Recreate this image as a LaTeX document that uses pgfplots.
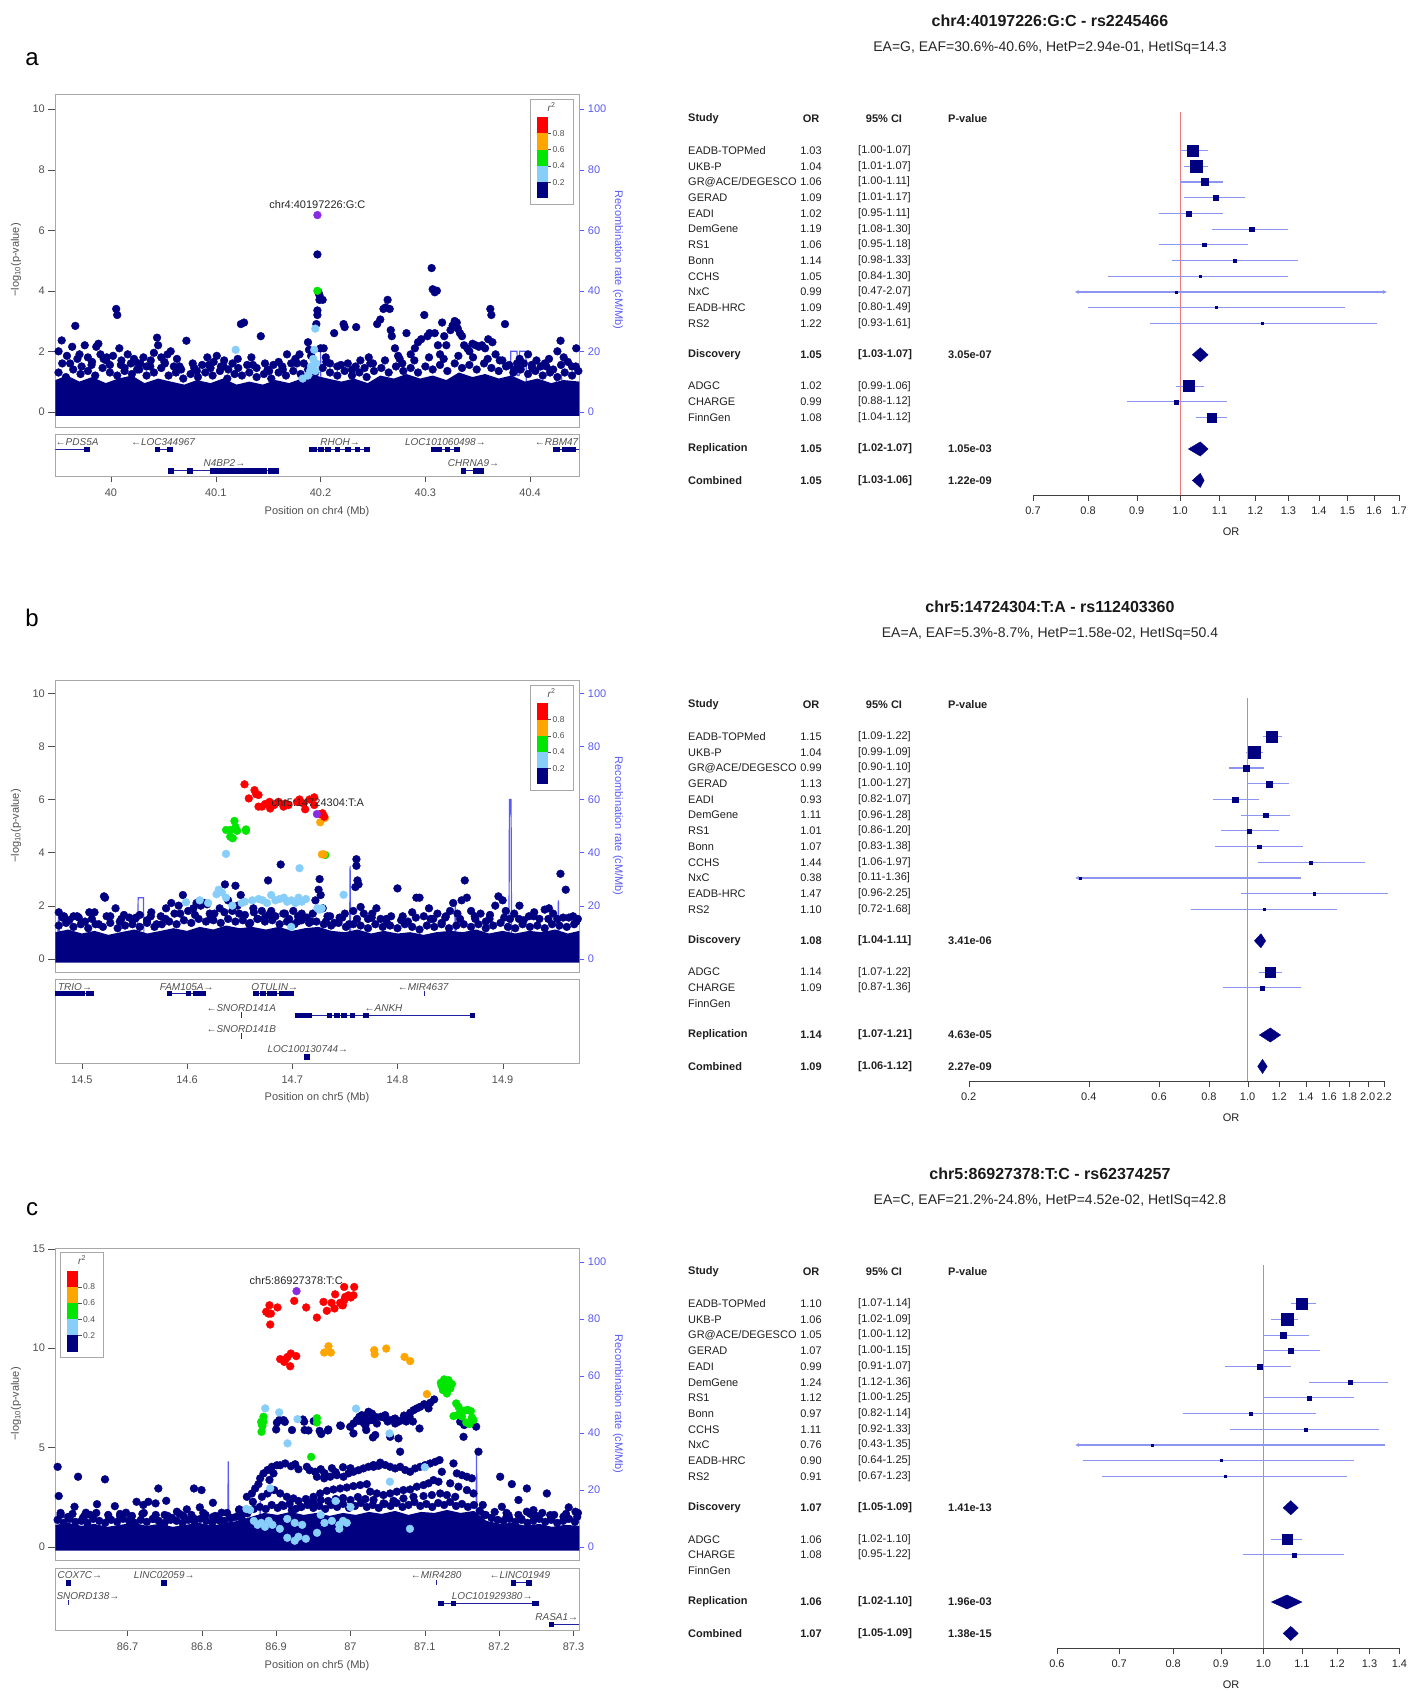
\documentclass[border=0pt]{standalone}
\usepackage{pgfplots}
\pgfplotsset{compat=1.18}
\usepackage{fontspec}
\setmainfont{Liberation Sans}
\usetikzlibrary{arrows.meta}
\definecolor{navy}{HTML}{000080}
\definecolor{ldblue}{HTML}{87CEFA}
\definecolor{ldgreen}{HTML}{00E600}
\definecolor{ldorange}{HTML}{FFA500}
\definecolor{ldred}{HTML}{FF0000}
\definecolor{ldpurple}{HTML}{8A2BE2}
\definecolor{recblue}{HTML}{5A5AF5}
\definecolor{txtgray}{HTML}{505050}
\definecolor{boxgray}{HTML}{A8A8A8}
\definecolor{cicol}{HTML}{8C96F0}
\definecolor{refred}{HTML}{F07878}
\definecolor{genecol}{HTML}{2020A0}
\newcommand\fs[1]{\fontsize{#1}{#1}\selectfont}
\tikzset{
 tbl/.style={font=\fs{11}, text=black!88, inner sep=0pt},
 tit/.style={font=\fs{16}\bfseries, text=black!90, inner sep=0pt},
 sub/.style={font=\fs{14}, text=black!85, inner sep=0pt},
 lab/.style={font=\fs{11}, text=txtgray, inner sep=0pt},
 leglab/.style={font=\fs{8.5}, text=txtgray, inner sep=0.5pt},
 glab/.style={font=\fs{10}\itshape, text=txtgray, inner sep=0pt},
 lead/.style={font=\fs{11}, text=black!85, inner sep=0pt},
}
\pgfplotsset{
 dots/.style={only marks, mark=*, mark size=3.9pt, color=#1, mark options={draw=none, fill=#1}},
 locus/.style={scale only axis, width=524pt, anchor=south west, axis line style={boxgray},
   xtick=\empty, ytick pos=left, tick align=outside, major tick length=7pt,
   ytick style={txtgray}, yticklabel style={font=\fs{11}, text=txtgray}, clip mode=individual},
 recomb/.style={scale only axis, width=524pt, anchor=south west, axis y line*=right, axis x line=none,
   ytick={0,20,40,60,80,100}, yticklabels={0,20,40,60,80,100},
   tick align=outside, major tick length=5pt, axis line style={-},
   y axis line style={recblue}, ytick style={recblue},
   yticklabel style={font=\fs{11}, text=recblue}},
 recline/.style={recblue, line width=1.2pt},
 genes/.style={scale only axis, width=524pt, anchor=south west, axis line style={boxgray}, ytick=\empty,
   xtick pos=left, tick align=outside, major tick length=6pt, xtick style={txtgray},
   xticklabel style={font=\fs{11}, text=txtgray, yshift=-3pt}, clip mode=individual},
 gline/.style={genecol, line width=0.8pt},
 exon/.style={only marks, mark=square*, mark size=2.3pt, color=navy, mark options={draw=none, fill=navy}},
 fplot/.style={scale only axis, anchor=south west, ymin=-21.93, ymax=2.46, height=383pt,
   axis y line=none, axis x line*=bottom, axis line style={-, black!75},
   tick align=outside, major tick length=6pt, xtick style={black!75},
   xticklabel style={font=\fs{11}, text=black!85, yshift=-2pt}, clip=false},
 ci/.style={cicol, line width=1.1pt},
 sqm/.style={only marks, mark=square*, color=navy, mark options={draw=none, fill=navy}},
}
\newcommand\ci[3]{\addplot[ci] coordinates {(#1,-#3) (#2,-#3)};}
\newcommand\sq[3]{\addplot[sqm, mark size=#3pt] coordinates {(#1,-#2)};}
\newcommand\frow[6]{%
 \node[tbl,anchor=west] at (688pt,{-(#1+150.7+15.7*#2)*1pt}) {#3};
 \node[tbl] at (811pt,{-(#1+150.7+15.7*#2)*1pt}) {#4};
 \node[tbl,anchor=west] at (858pt,{-(#1+150.7+15.7*#2)*1pt}) {#5};
 \node[tbl,anchor=west] at (948pt,{-(#1+150.7+15.7*#2)*1pt}) {#6};}
\newcommand\fhead[1]{%
 \node[tbl,anchor=west,font=\fs{11}\bfseries] at (688pt,{-(#1+119)*1pt}) {Study};
 \node[tbl,font=\fs{11}\bfseries] at (811pt,{-(#1+119)*1pt}) {OR};
 \node[tbl,font=\fs{11}\bfseries] at (884pt,{-(#1+119)*1pt}) {95\% CI};
 \node[tbl,anchor=west,font=\fs{11}\bfseries] at (948pt,{-(#1+119)*1pt}) {P-value};
 \node[tbl] at (1231pt,{-(#1+532)*1pt}) {OR};}
\newcommand\ldlegend[2]{\begin{scope}[shift={(#1pt,-#2pt)}]
 \draw[boxgray, fill=white, line width=0.8pt] (0pt,0pt) rectangle (43pt,-105pt);
 \fill[ldred] (6.6pt,-18.3pt) rectangle (17.6pt,-34.5pt);
 \fill[ldorange] (6.6pt,-34.5pt) rectangle (17.6pt,-50.7pt);
 \fill[ldgreen] (6.6pt,-50.7pt) rectangle (17.6pt,-66.9pt);
 \fill[ldblue] (6.6pt,-66.9pt) rectangle (17.6pt,-83.1pt);
 \fill[navy] (6.6pt,-83.1pt) rectangle (17.6pt,-99.3pt);
 \foreach \yy/\ll in {34.5/0.8,50.7/0.6,66.9/0.4,83.1/0.2} {\draw[txtgray] (17.6pt,-\yy pt) -- (21pt,-\yy pt); \node[leglab,anchor=west] at (22pt,-\yy pt) {\ll};}
 \node[leglab,font=\fs{10}] at (21.6pt,-8pt) {\textit{r}\textsuperscript{2}};
\end{scope}}
\begin{document}
\begin{tikzpicture}
\useasboundingbox (0pt,0pt) rectangle (1407pt,-1693pt);
% ================= PANEL A =================
\node[font=\fs{24}, inner sep=0pt] at (32pt,-59pt) {a};
\begin{axis}[recomb, at={(55.4pt,-427pt)}, height=333pt, xmin=39.947, xmax=40.447, ymin=-5, ymax=105]
\addplot[recline] coordinates {(39.947,4) (40.193,4) (40.1935,20) (40.2,20) (40.2005,6) (40.381,6) (40.3815,20) (40.3875,20) (40.388,12) (40.3895,12) (40.39,20) (40.396,20) (40.3965,6) (40.4245,6) (40.425,12) (40.430,12) (40.4305,5) (40.447,5)};
\end{axis}
\begin{axis}[locus, at={(55.4pt,-427pt)}, height=333pt, xmin=39.947, xmax=40.447, ymin=-0.5, ymax=10.5,
  ytick={0,2,4,6,8,10}, yticklabels={0,2,4,6,8,10}]
\addplot[fill=navy, draw=none] coordinates {(39.947,-0.13) (39.947,1.05) (39.958,1.2) (39.970,1.0) (39.982,1.15) (39.995,0.95) (40.007,1.1) (40.020,1.2) (40.032,0.95) (40.045,1.1) (40.057,1.0) (40.070,0.9) (40.082,1.05) (40.095,0.95) (40.107,1.1) (40.120,0.9) (40.132,1.0) (40.145,0.9) (40.157,1.05) (40.170,0.95) (40.182,1.1) (40.195,1.2) (40.207,1.1) (40.220,1.0) (40.232,1.1) (40.245,0.95) (40.257,1.2) (40.270,1.1) (40.282,1.25) (40.295,1.1) (40.307,1.2) (40.320,1.05) (40.332,1.3) (40.345,1.15) (40.357,1.25) (40.370,1.1) (40.382,1.2) (40.395,1.0) (40.407,1.1) (40.420,0.95) (40.432,1.05) (40.447,1.0) (40.447,-0.13)} --cycle;
\node[lead] at (axis cs:40.197,6.84) {chr4:40197226:G:C};
\addplot[dots=navy] coordinates {(39.950,1.3) (39.957,1.15) (39.964,1.4) (39.971,1.25) (39.978,1.35) (39.985,1.2) (39.992,1.45) (39.999,1.3) (40.006,1.2) (40.013,1.35) (40.020,1.25) (40.027,1.4) (40.034,1.2) (40.041,1.3) (40.048,1.45) (40.055,1.2) (40.062,1.3) (40.069,1.1) (40.076,1.25) (40.083,1.15) (40.090,1.3) (40.097,1.2) (40.104,1.35) (40.111,1.1) (40.118,1.25) (40.125,1.2) (40.132,1.3) (40.139,1.15) (40.146,1.25) (40.153,1.1) (40.160,1.3) (40.167,1.2) (40.174,1.35) (40.181,1.25) (40.188,1.4) (40.195,1.3) (40.202,1.45) (40.209,1.3) (40.216,1.2) (40.223,1.35) (40.230,1.2) (40.237,1.3) (40.244,1.15) (40.251,1.35) (40.258,1.45) (40.265,1.3) (40.272,1.5) (40.279,1.35) (40.286,1.45) (40.293,1.3) (40.300,1.5) (40.307,1.4) (40.314,1.55) (40.321,1.35) (40.328,1.6) (40.335,1.45) (40.342,1.55) (40.349,1.4) (40.356,1.6) (40.363,1.45) (40.370,1.35) (40.377,1.5) (40.384,1.3) (40.391,1.4) (40.398,1.25) (40.405,1.35) (40.412,1.2) (40.419,1.3) (40.426,1.15) (40.433,1.3) (40.440,1.2) (40.446,1.35)
(39.9535,1.6) (39.968,1.75) (39.9815,1.55) (39.9955,1.7) (40.0095,1.55) (40.0235,1.65) (40.0375,1.5) (40.0515,1.6) (40.0655,1.5) (40.0795,1.45) (40.0935,1.55) (40.1075,1.5) (40.1215,1.45) (40.1355,1.55) (40.1495,1.4) (40.1635,1.5) (40.1775,1.6) (40.2055,1.65) (40.2195,1.55) (40.2335,1.5) (40.2475,1.6) (40.2615,1.7) (40.2755,1.75) (40.2895,1.7) (40.3035,1.8) (40.3175,1.75) (40.3315,1.85) (40.3455,1.8) (40.3595,1.75) (40.3735,1.7) (40.3875,1.6) (40.4015,1.55) (40.4155,1.5) (40.4295,1.55) (40.4435,1.5)};
\addplot[dots=navy] coordinates {(39.950,2.0) (39.953,2.36) (39.958,1.85) (39.961,1.6) (39.963,2.15) (39.966,2.84) (39.970,1.9) (39.972,1.5) (39.975,2.2) (39.978,1.8) (39.982,1.65) (39.986,2.15) (39.988,2.25) (39.990,1.9) (39.993,1.75) (39.996,1.8) (39.999,1.55) (40.002,1.85) (40.005,3.4) (40.006,3.2) (40.008,2.1) (40.010,1.7) (40.013,1.45) (40.016,1.9) (40.019,1.6) (40.022,1.75) (40.025,1.4) (40.028,1.6) (40.031,1.8) (40.034,1.5) (40.038,1.7) (40.041,1.95) (40.044,2.45) (40.045,2.2) (40.048,1.8) (40.051,1.65) (40.054,1.9) (40.057,2.0) (40.060,1.5) (40.063,1.75) (40.067,1.4)
(40.072,2.35) (40.078,1.6) (40.082,1.35) (40.087,1.55) (40.092,1.8) (40.095,1.45) (40.098,1.65) (40.101,1.85) (40.105,1.5) (40.108,1.7) (40.112,1.4) (40.116,1.6) (40.121,1.75) (40.124,2.9) (40.127,2.95) (40.130,1.55) (40.134,1.8) (40.139,1.45) (40.143,2.5) (40.147,1.6) (40.151,1.35) (40.155,1.55) (40.160,1.65) (40.164,1.4) (40.168,1.9) (40.172,1.6) (40.176,1.75) (40.180,1.9) (40.184,1.6) (40.188,2.3) (40.189,2.05) (40.191,1.85)
(40.197,5.2) (40.198,3.95) (40.199,3.85) (40.197,3.35) (40.197,3.2) (40.196,2.9) (40.202,3.7) (40.199,3.7) (40.200,2.1) (40.203,2.1) (40.205,1.8) (40.209,1.6) (40.213,2.6) (40.216,1.5) (40.222,2.9) (40.223,2.8) (40.226,1.6) (40.230,1.4) (40.234,2.8) (40.238,1.7) (40.242,1.45)
(40.246,1.8) (40.250,1.6) (40.254,2.9) (40.257,3.05) (40.260,3.4) (40.262,3.45) (40.264,3.7) (40.266,3.4) (40.267,2.7) (40.268,2.5) (40.271,2.1) (40.274,1.85) (40.278,1.6) (40.282,2.6) (40.286,1.9) (40.290,2.1) (40.293,2.3) (40.296,2.4) (40.299,3.2) (40.302,2.5) (40.304,2.6) (40.306,4.75) (40.307,4.05) (40.309,3.95) (40.311,4.0) (40.309,2.6) (40.312,2.2) (40.314,1.9) (40.316,2.95) (40.318,2.5) (40.320,2.2) (40.324,2.7) (40.326,2.85) (40.328,3.0) (40.330,2.95) (40.331,2.75) (40.333,2.6) (40.335,2.5) (40.337,2.2) (40.340,2.1) (40.342,2.0) (40.345,2.25) (40.348,2.2) (40.351,2.15) (40.354,2.2) (40.357,2.1) (40.360,2.4) (40.362,3.4) (40.363,3.2) (40.364,2.3) (40.367,1.9) (40.371,1.7) (40.376,2.9) (40.380,1.55) (40.385,1.4) (40.390,1.75) (40.394,1.6) (40.398,1.9) (40.402,1.45) (40.406,1.7) (40.410,1.5) (40.414,1.6) (40.418,1.75) (40.422,1.4) (40.426,2.0) (40.429,2.35) (40.432,1.8) (40.436,1.65) (40.440,1.5) (40.444,2.1)};
\addplot[dots=ldblue] coordinates {(40.119,2.05) (40.195,2.75) (40.194,2.05) (40.193,1.75) (40.191,1.5) (40.190,1.35) (40.188,1.2) (40.183,1.1) (40.195,1.35) (40.196,1.6)};
\addplot[dots=ldgreen] coordinates {(40.197,4.0)};
\addplot[dots=ldpurple] coordinates {(40.197,6.5)};
\end{axis}
\begin{axis}[genes, at={(55.4pt,-476pt)}, height=42pt, xmin=39.947, xmax=40.447, ymin=-42, ymax=0,
  xtick={40,40.1,40.2,40.3,40.4}, xticklabels={40,40.1,40.2,40.3,40.4}]
\addplot[gline] coordinates {(39.947,-15.3) (39.978,-15.3)};
\addplot[exon] coordinates {(39.977,-15.3)};
\addplot[gline] coordinates {(40.043,-15.3) (40.057,-15.3)};
\addplot[exon] coordinates {(40.044,-15.3) (40.056,-15.3)};
\addplot[gline] coordinates {(40.191,-15.3) (40.246,-15.3)};
\addplot[exon] coordinates {(40.191,-15.3) (40.194,-15.3) (40.200,-15.3) (40.207,-15.3) (40.216,-15.3) (40.226,-15.3) (40.235,-15.3) (40.244,-15.3)};
\addplot[gline] coordinates {(40.307,-15.3) (40.331,-15.3)};
\addplot[exon] coordinates {(40.308,-15.3) (40.313,-15.3) (40.321,-15.3) (40.330,-15.3)};
\addplot[gline] coordinates {(40.423,-15.3) (40.447,-15.3)};
\addplot[exon] coordinates {(40.424,-15.3) (40.426,-15.3) (40.433,-15.3) (40.436,-15.3) (40.441,-15.3)};
\addplot[gline] coordinates {(40.056,-36.7) (40.158,-36.7)};
\addplot[exon] coordinates {(40.057,-36.7) (40.075,-36.7) (40.097,-36.7) (40.101,-36.7) (40.105,-36.7) (40.109,-36.7) (40.113,-36.7) (40.118,-36.7) (40.121,-36.7) (40.123,-36.7) (40.126,-36.7) (40.130,-36.7) (40.135,-36.7) (40.140,-36.7) (40.146,-36.7) (40.152,-36.7) (40.155,-36.7) (40.157,-36.7)};
\addplot[gline] coordinates {(40.335,-36.7) (40.355,-36.7)};
\addplot[exon] coordinates {(40.336,-36.7) (40.348,-36.7) (40.353,-36.7)};
\node[glab] at (axis cs:39.9677,-7.7) {←PDS5A};
\node[glab] at (axis cs:40.0497,-7.7) {←LOC344967};
\node[glab] at (axis cs:40.2186,-7.7) {RHOH→};
\node[glab] at (axis cs:40.3192,-7.7) {LOC101060498→};
\node[glab] at (axis cs:40.4252,-7.7) {←RBM47};
\node[glab] at (axis cs:40.1083,-28.7) {N4BP2→};
\node[glab] at (axis cs:40.346,-28.7) {CHRNA9→};
\end{axis}
\ldlegend{530}{99}
\node[lab, rotate=90] at (16pt,-260pt) {−log\textsubscript{10}(p-value)};
\node[lab, rotate=-90, text=recblue] at (618pt,-260pt) {Recombination rate (cM/Mb)};
\node[lab] at (317pt,-512pt) {Position on chr4 (Mb)};
% forest a
\node[tit] at (1050pt,-21pt) {chr4:40197226:G:C - rs2245466};
\node[sub] at (1050pt,-48pt) {EA=G, EAF=30.6\%-40.6\%, HetP=2.94e-01, HetISq=14.3};
\fhead{0}
\frow{0}{0}{EADB-TOPMed}{1.03}{[1.00-1.07]}{}
\frow{0}{1}{UKB-P}{1.04}{[1.01-1.07]}{}
\frow{0}{2}{GR@ACE/DEGESCO}{1.06}{[1.00-1.11]}{}
\frow{0}{3}{GERAD}{1.09}{[1.01-1.17]}{}
\frow{0}{4}{EADI}{1.02}{[0.95-1.11]}{}
\frow{0}{5}{DemGene}{1.19}{[1.08-1.30]}{}
\frow{0}{6}{RS1}{1.06}{[0.95-1.18]}{}
\frow{0}{7}{Bonn}{1.14}{[0.98-1.33]}{}
\frow{0}{8}{CCHS}{1.05}{[0.84-1.30]}{}
\frow{0}{9}{NxC}{0.99}{[0.47-2.07]}{}
\frow{0}{10}{EADB-HRC}{1.09}{[0.80-1.49]}{}
\frow{0}{11}{RS2}{1.22}{[0.93-1.61]}{}
\frow{0}{13}{\textbf{Discovery}}{\textbf{1.05}}{\textbf{[1.03-1.07]}}{\textbf{3.05e-07}}
\frow{0}{15}{ADGC}{1.02}{[0.99-1.06]}{}
\frow{0}{16}{CHARGE}{0.99}{[0.88-1.12]}{}
\frow{0}{17}{FinnGen}{1.08}{[1.04-1.12]}{}
\frow{0}{19}{\textbf{Replication}}{\textbf{1.05}}{\textbf{[1.02-1.07]}}{\textbf{1.05e-03}}
\frow{0}{21}{\textbf{Combined}}{\textbf{1.05}}{\textbf{[1.03-1.06]}}{\textbf{1.22e-09}}
\begin{axis}[fplot, xmode=log, xminorticks=false, at={(1033pt,-495pt)}, width=366pt, xmin=0.7, xmax=1.7,
  xtick={0.7,0.8,0.9,1.0,1.1,1.2,1.3,1.4,1.5,1.6,1.7}, xticklabels={0.7,0.8,0.9,1.0,1.1,1.2,1.3,1.4,1.5,1.6,1.7}]
\addplot[refred, line width=1pt] coordinates {(1,-21.93) (1,2.46)};
\ci{1.00}{1.07}{0} \ci{1.01}{1.07}{1} \ci{1.00}{1.11}{2} \ci{1.01}{1.17}{3} \ci{0.95}{1.11}{4} \ci{1.08}{1.30}{5}
\ci{0.95}{1.18}{6} \ci{0.98}{1.33}{7} \ci{0.84}{1.30}{8} \ci{0.80}{1.49}{10} \ci{0.93}{1.61}{11}
\ci{0.99}{1.06}{15} \ci{0.88}{1.12}{16} \ci{1.04}{1.12}{17}
\addplot[ci, arrows={Stealth[length=4pt,width=4pt]-Stealth[length=4pt,width=4pt]}] coordinates {(0.775,-9) (1.65,-9)};
\sq{1.03}{0}{5.5} \sq{1.04}{1}{6.25} \sq{1.06}{2}{3.5} \sq{1.09}{3}{2.75} \sq{1.02}{4}{2.5} \sq{1.19}{5}{2.25}
\sq{1.06}{6}{1.75} \sq{1.14}{7}{1.5} \sq{1.05}{8}{1.25} \sq{0.99}{9}{1} \sq{1.09}{10}{1} \sq{1.22}{11}{1}
\sq{1.02}{15}{5.5} \sq{0.99}{16}{2} \sq{1.08}{17}{4.75}
\addplot[fill=navy, draw=navy] coordinates {(1.03,-13) (1.05,-12.55) (1.07,-13) (1.05,-13.45)} --cycle;
\addplot[fill=navy, draw=navy] coordinates {(1.02,-19) (1.05,-18.55) (1.07,-19) (1.05,-19.45)} --cycle;
\addplot[fill=navy, draw=navy] coordinates {(1.03,-21) (1.05,-20.55) (1.06,-21) (1.05,-21.45)} --cycle;
\end{axis}
% ================= PANEL B =================
\node[font=\fs{24}, inner sep=0pt] at (32pt,-618pt) {b};
\begin{axis}[recomb, at={(55.4pt,-972pt)}, height=292pt, xmin=14.4748, xmax=14.973, ymin=-5, ymax=105]
\addplot[recline] coordinates {(14.4748,8) (14.477,8) (14.478,19) (14.479,8) (14.553,8) (14.5535,23) (14.5585,23) (14.559,8) (14.7545,8) (14.755,35) (14.7555,8) (14.8545,8) (14.855,22) (14.8555,8) (14.906,8) (14.9065,60) (14.908,60) (14.9085,8) (14.9525,8) (14.953,22) (14.9535,8) (14.973,8)};
\end{axis}
\begin{axis}[locus, at={(55.4pt,-972pt)}, height=292pt, xmin=14.4748, xmax=14.973, ymin=-0.5, ymax=10.5,
  ytick={0,2,4,6,8,10}, yticklabels={0,2,4,6,8,10}]
\addplot[fill=navy, draw=none] coordinates {(14.4748,-0.15) (14.4748,1.0) (14.487,1.1) (14.500,0.95) (14.512,1.05) (14.525,0.9) (14.537,1.0) (14.550,1.1) (14.562,0.95) (14.575,1.05) (14.587,1.15) (14.600,1.05) (14.612,1.2) (14.625,1.1) (14.637,1.25) (14.650,1.15) (14.662,1.2) (14.675,1.1) (14.687,1.2) (14.700,1.05) (14.712,1.15) (14.725,1.2) (14.737,1.05) (14.750,1.0) (14.762,1.1) (14.775,0.95) (14.787,1.05) (14.800,0.95) (14.812,1.0) (14.825,0.9) (14.837,1.0) (14.850,1.05) (14.862,1.0) (14.875,1.1) (14.887,0.95) (14.900,1.05) (14.912,0.95) (14.925,1.05) (14.937,1.0) (14.950,1.1) (14.962,0.95) (14.973,1.05) (14.973,-0.15)} --cycle;
\addplot[dots=navy] coordinates {(14.478,1.25) (14.485,1.35) (14.492,1.2) (14.499,1.3) (14.506,1.15) (14.513,1.3) (14.520,1.2) (14.527,1.35) (14.534,1.15) (14.541,1.25) (14.548,1.3) (14.555,1.2) (14.562,1.35) (14.569,1.2) (14.576,1.3) (14.583,1.4) (14.590,1.3) (14.597,1.45) (14.604,1.35) (14.611,1.5) (14.618,1.4) (14.625,1.45) (14.632,1.35) (14.639,1.5) (14.646,1.4) (14.653,1.45) (14.660,1.35) (14.667,1.5) (14.674,1.4) (14.681,1.45) (14.688,1.3) (14.695,1.4) (14.702,1.3) (14.709,1.45) (14.716,1.35) (14.723,1.4) (14.730,1.3) (14.737,1.25) (14.744,1.35) (14.751,1.2) (14.758,1.3) (14.765,1.25) (14.772,1.15) (14.779,1.3) (14.786,1.2) (14.793,1.25) (14.800,1.15) (14.807,1.3) (14.814,1.2) (14.821,1.1) (14.828,1.25) (14.835,1.2) (14.842,1.3) (14.849,1.15) (14.856,1.25) (14.863,1.3) (14.870,1.2) (14.877,1.3) (14.884,1.15) (14.891,1.25) (14.898,1.35) (14.905,1.2) (14.912,1.15) (14.919,1.3) (14.926,1.2) (14.933,1.25) (14.940,1.15) (14.947,1.3) (14.954,1.25) (14.961,1.2) (14.968,1.3)
(14.4815,1.55) (14.4955,1.6) (14.5095,1.5) (14.5235,1.6) (14.5375,1.5) (14.5515,1.55) (14.5655,1.6) (14.5795,1.5) (14.5935,1.7) (14.6075,1.65) (14.6215,1.7) (14.6355,1.75) (14.6495,1.7) (14.6635,1.75) (14.6775,1.65) (14.6915,1.7) (14.7055,1.6) (14.7195,1.7) (14.7335,1.6) (14.7475,1.55) (14.7615,1.5) (14.7755,1.55) (14.7895,1.5) (14.8035,1.45) (14.8175,1.55) (14.8315,1.5) (14.8455,1.55) (14.8595,1.5) (14.8735,1.6) (14.8875,1.5) (14.9015,1.55) (14.9155,1.5) (14.9295,1.6) (14.9435,1.5) (14.9575,1.55) (14.9715,1.5)};
\addplot[dots=navy] coordinates {(14.478,1.75) (14.483,1.6) (14.488,1.45) (14.492,1.6) (14.497,1.55) (14.503,1.4) (14.507,1.75) (14.512,1.75) (14.516,1.3) (14.521,2.35) (14.522,2.3) (14.527,1.6) (14.532,1.9) (14.536,1.4) (14.540,1.65) (14.545,1.55) (14.550,1.5) (14.555,1.65) (14.562,1.45) (14.566,1.75) (14.571,1.3) (14.575,1.6) (14.580,1.9) (14.585,2.1) (14.588,1.7) (14.592,2.0) (14.596,2.4) (14.601,1.8) (14.606,1.9) (14.609,2.1) (14.613,2.0) (14.616,2.1) (14.619,2.05) (14.622,1.5) (14.626,1.7) (14.631,1.9) (14.636,2.8) (14.639,2.2) (14.643,1.8) (14.646,2.75) (14.648,2.0) (14.651,2.4) (14.655,1.65) (14.659,1.3) (14.663,1.9) (14.667,1.5) (14.671,1.8) (14.674,1.55) (14.677,2.95) (14.680,1.8) (14.684,1.6) (14.689,3.55) (14.693,1.7) (14.697,1.5) (14.701,1.8) (14.705,1.4) (14.709,1.7) (14.714,1.55) (14.718,1.4) (14.722,2.2) (14.725,2.6) (14.726,3.0) (14.727,2.4) (14.729,1.9) (14.732,1.4) (14.736,1.6) (14.740,1.35) (14.745,1.55) (14.750,1.7) (14.754,1.3) (14.758,1.8) (14.761,3.75) (14.761,3.5) (14.762,2.95) (14.763,2.8) (14.760,2.7) (14.765,1.95) (14.768,1.7) (14.772,1.5) (14.776,1.7) (14.780,1.9) (14.784,1.5) (14.790,1.35) (14.794,1.6) (14.800,2.65) (14.805,1.6) (14.810,1.4) (14.814,1.75) (14.818,2.3) (14.821,2.3) (14.825,1.6) (14.830,1.9) (14.834,1.5) (14.838,1.7) (14.842,1.35) (14.846,1.6) (14.850,1.8) (14.853,2.1) (14.857,1.7) (14.861,2.2) (14.864,2.95) (14.866,2.3) (14.870,1.8) (14.874,1.5) (14.879,1.7) (14.884,1.4) (14.888,1.65) (14.893,2.0) (14.896,2.35) (14.900,2.2) (14.903,1.8) (14.907,1.5) (14.911,1.7) (14.916,2.0) (14.920,1.45) (14.925,1.6) (14.930,1.75) (14.935,1.5) (14.940,1.85) (14.944,1.9) (14.948,1.7) (14.952,1.5) (14.955,3.2) (14.960,2.6) (14.963,1.55) (14.967,1.6) (14.970,1.4)};
\addplot[dots=ldblue] coordinates {(14.599,2.13) (14.612,2.2) (14.628,2.43) (14.630,2.6) (14.633,2.5) (14.620,2.1) (14.637,2.3) (14.655,2.15) (14.662,2.2) (14.668,2.25) (14.672,2.2) (14.676,2.1) (14.680,2.4) (14.684,2.2) (14.688,2.25) (14.692,2.3) (14.695,2.15) (14.699,2.2) (14.703,2.1) (14.706,2.3) (14.709,2.15) (14.713,2.25) (14.699,1.2) (14.724,1.9) (14.728,1.9) (14.726,1.85) (14.652,2.1) (14.643,2.0) (14.6425,4.55) (14.637,3.95) (14.7069,3.41) (14.7488,2.41)};
\addplot[dots=ldgreen] coordinates {(14.645,5.19) (14.6371,4.85) (14.641,4.85) (14.646,4.87) (14.6476,4.82) (14.6559,4.82) (14.656,4.87) (14.6435,4.54) (14.646,4.96) (14.7314,3.91) (14.641,4.6)};
\addplot[dots=ldorange] coordinates {(14.731,5.3) (14.7266,5.14) (14.7282,3.93) (14.7300,3.93)};
\addplot[dots=ldred] coordinates {(14.6546,6.57) (14.6587,6.04) (14.6641,6.35) (14.6657,6.20) (14.6679,6.17) (14.6679,5.73) (14.6711,5.73) (14.6743,5.83) (14.6784,5.91) (14.6790,5.66) (14.6828,5.79) (14.6869,5.91) (14.6917,5.73) (14.6933,5.85) (14.6964,5.79) (14.7044,5.91) (14.7069,6.0) (14.7107,5.85) (14.7123,5.63) (14.7164,6.0) (14.7209,6.08) (14.7209,5.79) (14.7266,5.45) (14.7288,5.48) (14.7304,5.35)};
\node[lead] at (axis cs:14.7243,5.88) {chr5:14724304:T:A};
\addplot[dots=ldpurple] coordinates {(14.7234,5.45)};
\end{axis}
\begin{axis}[genes, at={(55.4pt,-1063pt)}, height=84pt, xmin=14.4748, xmax=14.973, ymin=-84, ymax=0,
  xtick={14.5,14.6,14.7,14.8,14.9}, xticklabels={14.5,14.6,14.7,14.8,14.9}]
\addplot[gline] coordinates {(14.4758,-14.3) (14.511,-14.3)};
\addplot[exon] coordinates {(14.477,-14.3) (14.480,-14.3) (14.483,-14.3) (14.486,-14.3) (14.490,-14.3) (14.494,-14.3) (14.500,-14.3) (14.506,-14.3) (14.509,-14.3)};
\addplot[gline] coordinates {(14.582,-14.3) (14.616,-14.3)};
\addplot[exon] coordinates {(14.583,-14.3) (14.601,-14.3) (14.608,-14.3) (14.612,-14.3) (14.615,-14.3)};
\addplot[gline] coordinates {(14.664,-14.3) (14.700,-14.3)};
\addplot[exon] coordinates {(14.665,-14.3) (14.672,-14.3) (14.678,-14.3) (14.683,-14.3) (14.690,-14.3) (14.695,-14.3) (14.699,-14.3)};
\addplot[gline] coordinates {(14.8255,-11.5) (14.8255,-16.5)};
\addplot[gline] coordinates {(14.652,-33) (14.652,-38.5)};
\addplot[gline] coordinates {(14.704,-36) (14.871,-36)};
\addplot[exon] coordinates {(14.705,-36) (14.707,-36) (14.709,-36) (14.711,-36) (14.716,-36) (14.735,-36) (14.742,-36) (14.749,-36) (14.757,-36) (14.770,-36) (14.871,-36)};
\addplot[gline] coordinates {(14.652,-54) (14.652,-59.5)};
\addplot[exon] coordinates {(14.714,-77.7)};
\node[glab] at (axis cs:14.4935,-7.7) {TRIO→};
\node[glab] at (axis cs:14.5997,-7.7) {FAM105A→};
\node[glab] at (axis cs:14.6834,-7.7) {OTULIN→};
\node[glab] at (axis cs:14.8244,-7.7) {←MIR4637};
\node[glab] at (axis cs:14.6515,-28.7) {←SNORD141A};
\node[glab] at (axis cs:14.7868,-28.7) {←ANKH};
\node[glab] at (axis cs:14.6515,-49.7) {←SNORD141B};
\node[glab] at (axis cs:14.7149,-70) {LOC100130744→};
\end{axis}
\ldlegend{530}{685}
\node[lab, rotate=90] at (16pt,-826pt) {−log\textsubscript{10}(p-value)};
\node[lab, rotate=-90, text=recblue] at (618pt,-826pt) {Recombination rate (cM/Mb)};
\node[lab] at (317pt,-1098pt) {Position on chr5 (Mb)};
% forest b
\node[tit] at (1050pt,-607pt) {chr5:14724304:T:A - rs112403360};
\node[sub] at (1050pt,-634pt) {EA=A, EAF=5.3\%-8.7\%, HetP=1.58e-02, HetISq=50.4};
\fhead{586}
\frow{586}{0}{EADB-TOPMed}{1.15}{[1.09-1.22]}{}
\frow{586}{1}{UKB-P}{1.04}{[0.99-1.09]}{}
\frow{586}{2}{GR@ACE/DEGESCO}{0.99}{[0.90-1.10]}{}
\frow{586}{3}{GERAD}{1.13}{[1.00-1.27]}{}
\frow{586}{4}{EADI}{0.93}{[0.82-1.07]}{}
\frow{586}{5}{DemGene}{1.11}{[0.96-1.28]}{}
\frow{586}{6}{RS1}{1.01}{[0.86-1.20]}{}
\frow{586}{7}{Bonn}{1.07}{[0.83-1.38]}{}
\frow{586}{8}{CCHS}{1.44}{[1.06-1.97]}{}
\frow{586}{9}{NxC}{0.38}{[0.11-1.36]}{}
\frow{586}{10}{EADB-HRC}{1.47}{[0.96-2.25]}{}
\frow{586}{11}{RS2}{1.10}{[0.72-1.68]}{}
\frow{586}{13}{\textbf{Discovery}}{\textbf{1.08}}{\textbf{[1.04-1.11]}}{\textbf{3.41e-06}}
\frow{586}{15}{ADGC}{1.14}{[1.07-1.22]}{}
\frow{586}{16}{CHARGE}{1.09}{[0.87-1.36]}{}
\frow{586}{17}{FinnGen}{}{}{}
\frow{586}{19}{\textbf{Replication}}{\textbf{1.14}}{\textbf{[1.07-1.21]}}{\textbf{4.63e-05}}
\frow{586}{21}{\textbf{Combined}}{\textbf{1.09}}{\textbf{[1.06-1.12]}}{\textbf{2.27e-09}}
\begin{axis}[fplot, xmode=log, xminorticks=false, at={(968.7pt,-1081pt)}, width=415.5pt, xmin=0.2, xmax=2.2,
  xtick={0.2,0.4,0.6,0.8,1.0,1.2,1.4,1.6,1.8,2.0,2.2}, xticklabels={0.2,0.4,0.6,0.8,1.0,1.2,1.4,1.6,1.8,2.0,2.2}]
\addplot[refred, line width=1pt] coordinates {(1,-21.93) (1,2.46)};
\ci{1.09}{1.22}{0} \ci{0.99}{1.09}{1} \ci{0.90}{1.10}{2} \ci{1.00}{1.27}{3} \ci{0.82}{1.07}{4} \ci{0.96}{1.28}{5}
\ci{0.86}{1.20}{6} \ci{0.83}{1.38}{7} \ci{1.06}{1.97}{8} \ci{0.96}{2.25}{10} \ci{0.72}{1.68}{11}
\ci{1.07}{1.22}{15} \ci{0.87}{1.36}{16}
\addplot[ci, arrows={Stealth[length=4pt,width=4pt]-}] coordinates {(0.37,-9) (1.36,-9)};
\sq{1.15}{0}{5.75} \sq{1.04}{1}{6.25} \sq{0.99}{2}{3} \sq{1.13}{3}{3} \sq{0.93}{4}{2.75} \sq{1.11}{5}{2.25}
\sq{1.01}{6}{2} \sq{1.07}{7}{1.75} \sq{1.44}{8}{1.5} \sq{0.38}{9}{1} \sq{1.47}{10}{1.25} \sq{1.10}{11}{1}
\sq{1.14}{15}{5.25} \sq{1.09}{16}{2}
\addplot[fill=navy, draw=navy] coordinates {(1.04,-13) (1.08,-12.55) (1.11,-13) (1.08,-13.45)} --cycle;
\addplot[fill=navy, draw=navy] coordinates {(1.07,-19) (1.14,-18.55) (1.21,-19) (1.14,-19.45)} --cycle;
\addplot[fill=navy, draw=navy] coordinates {(1.06,-21) (1.09,-20.55) (1.12,-21) (1.09,-21.45)} --cycle;
\end{axis}
% ================= PANEL C =================
\node[font=\fs{24}, inner sep=0pt] at (32pt,-1209pt) {c};
\begin{axis}[recomb, at={(55.4pt,-1560pt)}, height=312pt, xmin=86.603, xmax=87.308, ymin=-4.67, ymax=104.9]
\addplot[recline] coordinates {(86.603,4) (86.835,4) (86.8355,30) (86.8365,4) (86.878,4) (86.8785,16) (86.879,4) (87.169,4) (87.1695,33) (87.1705,4) (87.308,4)};
\end{axis}
\begin{axis}[locus, at={(55.4pt,-1560pt)}, height=312pt, xmin=86.603, xmax=87.308, ymin=-0.67, ymax=15.03,
  ytick={0,5,10,15}, yticklabels={0,5,10,15}]
\addplot[fill=navy, draw=none] coordinates {(86.603,-0.2) (86.603,1.1) (86.620,1.2) (86.638,1.05) (86.655,1.15) (86.673,1.0) (86.690,1.1) (86.708,1.2) (86.726,1.05) (86.743,1.15) (86.761,1.0) (86.778,1.1) (86.796,1.2) (86.814,1.05) (86.831,1.2) (86.849,1.3) (86.866,1.5) (86.884,1.7) (86.902,1.6) (86.919,1.75) (86.937,1.6) (86.954,1.7) (86.972,1.55) (86.990,1.7) (87.007,1.6) (87.025,1.75) (87.042,1.65) (87.060,1.8) (87.078,1.6) (87.095,1.75) (87.113,1.7) (87.130,1.85) (87.148,1.7) (87.166,1.8) (87.183,1.3) (87.201,1.15) (87.218,1.2) (87.236,1.05) (87.254,1.15) (87.271,1.0) (87.289,1.1) (87.308,1.05) (87.308,-0.2)} --cycle;
\node[lead] at (axis cs:86.927,13.37) {chr5:86927378:T:C};
\addplot[dots=navy] coordinates {(86.606,1.35) (86.614,1.2) (86.622,1.4) (86.630,1.25) (86.638,1.3) (86.646,1.2) (86.654,1.4) (86.662,1.3) (86.670,1.2) (86.678,1.35) (86.686,1.25) (86.694,1.4) (86.702,1.3) (86.710,1.2) (86.718,1.35) (86.726,1.25) (86.734,1.4) (86.742,1.3) (86.750,1.2) (86.758,1.35) (86.766,1.3) (86.774,1.2) (86.782,1.35) (86.790,1.25) (86.798,1.4) (86.806,1.3) (86.814,1.2) (86.822,1.35) (86.830,1.3) (86.838,1.45) (86.846,1.5) (86.854,1.6) (86.862,1.75) (86.870,1.9) (86.878,2.0) (86.886,1.9) (86.894,2.1) (86.902,1.95) (86.910,2.05) (86.918,2.15) (86.926,1.9) (86.934,2.0) (86.942,2.1) (86.950,1.95) (86.958,2.05) (86.966,1.9) (86.974,2.1) (86.982,2.0) (86.990,2.15) (86.998,1.95) (87.006,2.05) (87.014,2.2) (87.022,2.0) (87.030,2.1) (87.038,1.95) (87.046,2.15) (87.054,2.05) (87.062,2.2) (87.070,2.0) (87.078,2.1) (87.086,2.25) (87.094,2.05) (87.102,2.15) (87.110,2.0) (87.118,2.2) (87.126,2.1) (87.134,2.25) (87.142,2.05) (87.150,2.15) (87.158,2.0) (87.166,2.1) (87.174,1.8) (87.182,1.6) (87.190,1.45) (87.198,1.35) (87.206,1.3) (87.214,1.4) (87.222,1.25) (87.230,1.35) (87.238,1.2) (87.246,1.3) (87.254,1.4) (87.262,1.25) (87.270,1.35) (87.278,1.2) (87.286,1.3) (87.294,1.4) (87.302,1.25)
(86.610,1.6) (86.626,1.65) (86.642,1.55) (86.658,1.7) (86.674,1.6) (86.690,1.65) (86.706,1.55) (86.722,1.7) (86.738,1.6) (86.754,1.55) (86.770,1.65) (86.786,1.6) (86.802,1.7) (86.818,1.55) (86.834,1.7) (86.850,1.85) (87.178,2.1) (87.194,1.75) (87.210,1.7) (87.226,1.6) (87.242,1.65) (87.258,1.7) (87.274,1.6) (87.290,1.65) (87.306,1.7)};
\addplot[dots=navy] coordinates {(86.901,6.24) (86.9041,6.37) (86.9099,6.37) (86.900,5.9) (86.936,6.4) (86.9377,6.29) (86.9435,5.85) (86.9606,5.67) (86.9696,5.85) (86.9871,6.08) (86.9996,6.03) (87.004,6.2) (87.0086,6.37) (87.012,6.54) (87.0153,6.62) (87.0174,6.25) (87.0198,6.5) (87.0242,6.79) (87.0288,6.37) (87.0333,6.54) (87.0355,6.2) (87.0302,5.5) (87.0212,5.87) (87.004,5.7) (87.0288,6.7) (87.0409,6.54) (87.0467,6.62) (87.0512,6.37) (87.057,6.4) (87.0601,6.2) (87.0646,6.29) (87.0692,6.37) (87.0333,5.62) (87.0534,5.53) (87.0646,5.45) (87.0794,6.54) (87.0803,6.74) (87.0848,6.87) (87.0893,6.96) (87.0938,7.04) (87.0992,7.17) (87.105,6.96) (87.1072,7.24) (87.1126,7.41) (87.084,6.3) (87.0929,5.95) (87.1476,6.29) (87.153,6.12) (87.1691,6.04) (87.1521,5.53) (86.9505,6.32) (86.9585,5.83) (86.9702,5.9) (86.9862,6.1) (87.011,6.33) (86.9117,6.28) (86.9213,5.87) (86.9383,5.87) (87.045,6.5) (87.05,6.3) (87.06,6.45) (87.072,6.6) (87.075,6.3) (87.02,6.1) (87.025,6.35)
(86.8785,3.44) (86.883,3.69) (86.8884,3.86) (86.8943,4.02) (86.901,4.1) (86.9054,4.1) (86.9122,4.19) (86.8964,3.69) (86.891,3.36) (86.9256,4.15) (86.9413,4.02) (86.9525,3.77) (86.9548,3.52) (86.9646,3.44) (86.9727,3.52) (86.9817,3.6) (86.9906,3.52) (86.9973,3.69) (87.004,3.77) (87.0108,3.85) (87.0175,3.94) (87.0242,4.02) (87.031,4.02) (87.0377,4.07) (87.031,4.11) (87.04,4.23) (87.0467,4.11) (87.0534,4.02) (87.0601,3.94) (87.0668,4.02) (87.0736,3.86) (87.0803,3.77) (87.087,3.94) (87.0938,4.02) (87.1005,4.11) (87.1072,4.19) (87.114,4.27) (87.1198,4.36) (87.0668,4.78) (87.1229,3.77) (87.1386,4.19) (87.1431,3.69) (87.15,3.6) (87.1566,3.52) (87.1633,3.44) (87.1722,4.78) (86.96,3.9) (86.975,3.95) (86.99,4.0) (87.0,3.95) (86.965,3.7) (86.98,3.75) (86.92,4.05) (86.93,3.9) (86.945,3.85)
(87.0265,2.77) (87.0355,2.68) (87.0444,2.6) (87.0534,2.68) (87.0624,2.77) (87.0713,2.85) (87.0803,2.88) (87.0893,3.02) (87.0983,3.1) (87.105,3.19) (87.1117,3.35) (87.1184,3.27) (87.031,2.35) (87.0444,2.18) (87.0579,2.31) (87.0713,2.43) (87.0848,2.51) (87.0983,2.55) (87.1095,2.6) (87.1207,2.68) (87.1297,2.6) (87.1409,2.51) (87.1342,3.19) (87.1453,3.02) (87.1566,2.85) (87.1655,2.68) (86.8606,2.51) (86.8673,2.68) (86.8718,2.93) (86.8762,3.15) (86.8687,2.26) (86.8808,2.51) (86.8884,2.68) (86.8974,2.85) (86.9054,2.68) (86.9144,2.51) (86.9233,2.43) (86.9077,2.1) (86.9211,1.84) (86.9323,2.01) (86.9435,2.2) (86.9502,2.51) (86.9592,2.68) (86.9682,2.81) (86.9771,2.88) (86.9861,2.93) (86.9951,2.98) (87.004,3.05) (87.0131,3.1) (87.022,3.15) (86.93,2.3) (86.94,2.4) (86.95,2.25) (86.96,2.35) (86.97,2.3) (86.98,2.4) (86.99,2.45) (87.0,2.35) (87.01,2.5) (87.02,2.4)
(87.2014,3.52) (87.2171,3.15) (87.2373,2.93) (87.2642,2.68) (87.226,2.35) (87.2462,1.84) (87.2687,1.59) (87.2866,1.51) (87.2037,2.01) (87.2126,1.59) (87.2373,1.76) (87.2936,1.98) (87.3027,1.76) (86.606,4.02) (86.6335,3.52) (86.6697,3.39) (86.7415,2.93) (86.7894,2.93) (86.7996,2.85) (86.6075,2.55) (86.6287,2.01) (86.6441,1.71) (86.659,2.14) (86.683,2.04) (86.698,1.71) (86.7122,2.26) (86.7213,2.1) (86.728,2.26) (86.7378,2.18) (86.7521,2.31) (86.7665,1.76) (86.7798,1.88) (86.7973,1.98) (86.8149,2.21) (86.8266,1.71) (86.824,1.34) (86.8505,1.88) (86.8612,1.68) (86.8543,1.34) (86.61,1.7) (86.62,1.5) (86.64,1.45) (86.65,1.6) (86.675,1.45) (86.69,1.55) (86.705,1.5) (86.72,1.65) (86.735,1.4) (86.75,1.6) (86.76,1.45) (86.775,1.55) (86.79,1.4) (86.805,1.6) (86.815,1.5) (86.84,1.45) (86.85,1.6) (87.18,1.6) (87.19,1.45) (87.21,1.5) (87.23,1.4) (87.25,1.55) (87.27,1.45) (87.29,1.4) (87.305,1.5)};
\addplot[dots=ldblue] coordinates {(86.8853,6.96) (86.9041,6.76) (86.9287,6.42) (86.9153,5.2) (86.892,2.94) (87.0074,6.95) (87.0525,5.7) (87.053,3.27) (87.1,4.0) (86.86,1.9) (86.865,1.85) (86.87,1.3) (86.875,1.1) (86.88,1.2) (86.885,1.0) (86.89,1.3) (86.895,1.1) (86.905,0.9) (86.915,1.4) (86.925,1.2) (86.93,0.5) (86.935,1.1) (86.94,0.4) (86.955,0.7) (86.96,1.6) (86.965,1.2) (86.975,1.3) (86.98,2.3) (86.985,1.1) (86.99,1.3) (86.995,1.2) (87.0,2.0) (86.915,0.45) (86.925,0.3) (86.985,0.9) (87.08,0.9)};
\addplot[dots=ldgreen] coordinates {(86.8798,6.28) (86.883,6.54) (86.883,6.29) (86.8808,6.17) (86.8803,5.78) (86.8815,6.07) (86.9548,6.47) (86.9548,6.25) (86.9471,4.52) (87.1216,8.25) (87.1261,8.42) (87.1319,8.38) (87.1365,8.18) (87.1342,7.96) (87.1297,7.71) (87.1243,7.88) (87.1225,8.1) (87.127,8.05) (87.1422,7.21) (87.1453,7.04) (87.1476,6.79) (87.1386,6.57) (87.144,6.62) (87.153,6.84) (87.1575,6.89) (87.162,6.82) (87.1634,6.5) (87.1655,6.37) (87.1601,6.17) (87.1557,6.25) (87.15,6.55)};
\addplot[dots=ldorange] coordinates {(86.9646,9.77) (86.9704,10.09) (86.9736,9.77) (87.0319,9.89) (87.0325,9.69) (87.0481,9.97) (87.0727,9.55) (87.0803,9.34) (87.1028,7.68)};
\addplot[dots=ldred] coordinates {(86.8866,11.82) (86.8897,11.73) (86.8929,11.73) (86.891,12.15) (86.892,11.18) (86.9018,12.04) (86.9243,12.37) (86.9404,12.04) (86.9548,11.53) (86.9637,12.32) (86.9682,11.87) (86.9745,12.27) (86.9785,11.99) (86.9794,12.7) (86.9861,12.27) (86.9888,12.15) (86.9898,12.15) (86.9915,12.4) (86.9915,13.07) (86.9929,12.57) (86.9973,12.65) (87.0005,12.54) (87.004,12.65) (87.005,13.07) (86.9054,9.44) (86.9108,9.30) (86.9153,9.55) (86.9198,9.72) (86.927,9.59) (86.9189,9.08) (86.913,9.45)};
\addplot[dots=ldpurple] coordinates {(86.9274,12.86)};
\end{axis}
\begin{axis}[genes, at={(55.4pt,-1630pt)}, height=62pt, xmin=86.603, xmax=87.308, ymin=-62, ymax=0,
  xtick={86.7,86.8,86.9,87,87.1,87.2,87.3}, xticklabels={86.7,86.8,86.9,87,87.1,87.2,87.3}]
\addplot[exon] coordinates {(86.620,-14.7) (86.749,-14.7)};
\addplot[gline] coordinates {(86.621,-32) (86.621,-37)};
\addplot[gline] coordinates {(87.116,-12) (87.116,-17)};
\addplot[gline] coordinates {(87.218,-14.7) (87.241,-14.7)};
\addplot[exon] coordinates {(87.219,-14.7) (87.240,-14.7)};
\addplot[gline] coordinates {(87.121,-35) (87.250,-35)};
\addplot[exon] coordinates {(87.121,-35) (87.138,-35) (87.248,-35) (87.250,-35)};
\addplot[gline] coordinates {(87.269,-56) (87.308,-56)};
\addplot[exon] coordinates {(87.270,-56)};
\node[glab] at (axis cs:86.636,-7) {COX7C→};
\node[glab] at (axis cs:86.6468,-28) {SNORD138→};
\node[glab] at (axis cs:86.7495,-7) {LINC02059→};
\node[glab] at (axis cs:87.1153,-7) {←MIR4280};
\node[glab] at (axis cs:87.2278,-7) {←LINC01949};
\node[glab] at (axis cs:87.1907,-28) {LOC101929380→};
\node[glab] at (axis cs:87.2776,-49) {RASA1→};
\end{axis}
\ldlegend{60.5}{1252.3}
\node[lab, rotate=90] at (16pt,-1404pt) {−log\textsubscript{10}(p-value)};
\node[lab, rotate=-90, text=recblue] at (618pt,-1404pt) {Recombination rate (cM/Mb)};
\node[lab] at (317pt,-1666pt) {Position on chr5 (Mb)};
% forest c
\node[tit] at (1050pt,-1174pt) {chr5:86927378:T:C - rs62374257};
\node[sub] at (1050pt,-1201pt) {EA=C, EAF=21.2\%-24.8\%, HetP=4.52e-02, HetISq=42.8};
\fhead{1153}
\frow{1153}{0}{EADB-TOPMed}{1.10}{[1.07-1.14]}{}
\frow{1153}{1}{UKB-P}{1.06}{[1.02-1.09]}{}
\frow{1153}{2}{GR@ACE/DEGESCO}{1.05}{[1.00-1.12]}{}
\frow{1153}{3}{GERAD}{1.07}{[1.00-1.15]}{}
\frow{1153}{4}{EADI}{0.99}{[0.91-1.07]}{}
\frow{1153}{5}{DemGene}{1.24}{[1.12-1.36]}{}
\frow{1153}{6}{RS1}{1.12}{[1.00-1.25]}{}
\frow{1153}{7}{Bonn}{0.97}{[0.82-1.14]}{}
\frow{1153}{8}{CCHS}{1.11}{[0.92-1.33]}{}
\frow{1153}{9}{NxC}{0.76}{[0.43-1.35]}{}
\frow{1153}{10}{EADB-HRC}{0.90}{[0.64-1.25]}{}
\frow{1153}{11}{RS2}{0.91}{[0.67-1.23]}{}
\frow{1153}{13}{\textbf{Discovery}}{\textbf{1.07}}{\textbf{[1.05-1.09]}}{\textbf{1.41e-13}}
\frow{1153}{15}{ADGC}{1.06}{[1.02-1.10]}{}
\frow{1153}{16}{CHARGE}{1.08}{[0.95-1.22]}{}
\frow{1153}{17}{FinnGen}{}{}{}
\frow{1153}{19}{\textbf{Replication}}{\textbf{1.06}}{\textbf{[1.02-1.10]}}{\textbf{1.96e-03}}
\frow{1153}{21}{\textbf{Combined}}{\textbf{1.07}}{\textbf{[1.05-1.09]}}{\textbf{1.38e-15}}
\begin{axis}[fplot, xmode=log, xminorticks=false, at={(1056.9pt,-1648pt)}, width=342.5pt, xmin=0.6, xmax=1.4,
  xtick={0.6,0.7,0.8,0.9,1.0,1.1,1.2,1.3,1.4}, xticklabels={0.6,0.7,0.8,0.9,1.0,1.1,1.2,1.3,1.4}]
\addplot[refred, line width=1pt] coordinates {(1,-21.93) (1,2.46)};
\ci{1.07}{1.14}{0} \ci{1.02}{1.09}{1} \ci{1.00}{1.12}{2} \ci{1.00}{1.15}{3} \ci{0.91}{1.07}{4} \ci{1.12}{1.36}{5}
\ci{1.00}{1.25}{6} \ci{0.82}{1.14}{7} \ci{0.92}{1.33}{8} \ci{0.64}{1.25}{10} \ci{0.67}{1.23}{11}
\ci{1.02}{1.10}{15} \ci{0.95}{1.22}{16}
\addplot[ci, arrows={Stealth[length=4pt,width=4pt]-}] coordinates {(0.628,-9) (1.35,-9)};
\sq{1.10}{0}{5.25} \sq{1.06}{1}{6.25} \sq{1.05}{2}{3} \sq{1.07}{3}{2.75} \sq{0.99}{4}{2.5} \sq{1.24}{5}{2.25}
\sq{1.12}{6}{2} \sq{0.97}{7}{1.5} \sq{1.11}{8}{1.5} \sq{0.76}{9}{1} \sq{0.90}{10}{1} \sq{0.91}{11}{1}
\sq{1.06}{15}{5.25} \sq{1.08}{16}{2}
\addplot[fill=navy, draw=navy] coordinates {(1.05,-13) (1.07,-12.55) (1.09,-13) (1.07,-13.45)} --cycle;
\addplot[fill=navy, draw=navy] coordinates {(1.02,-19) (1.06,-18.55) (1.10,-19) (1.06,-19.45)} --cycle;
\addplot[fill=navy, draw=navy] coordinates {(1.05,-21) (1.07,-20.55) (1.09,-21) (1.07,-21.45)} --cycle;
\end{axis}
\end{tikzpicture}
\end{document}
